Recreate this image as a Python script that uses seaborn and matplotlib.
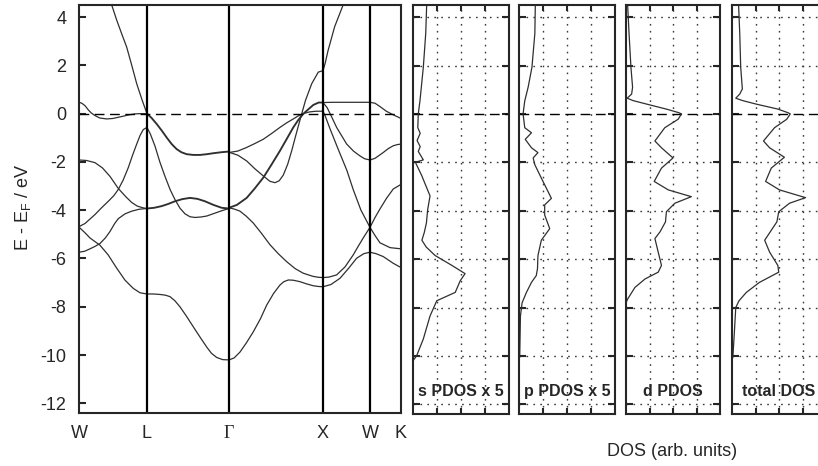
import matplotlib
matplotlib.use("Agg")
import matplotlib.pyplot as plt
import seaborn as sns

sns.set_style("ticks")
plt.rcParams['font.family'] = ['Liberation Sans', 'DejaVu Sans']
plt.rcParams['mathtext.default'] = 'regular'
plt.rcParams['axes.unicode_minus'] = False

# ---------------------------------------------------------------
# dati
# ---------------------------------------------------------------
K_POS = [0.0, 0.723, 1.596, 2.596, 3.096, 3.426]
K_LABELS = ['W', 'L', 'Γ', 'X', 'W', 'K']
E_RANGE = (-12.4, 4.5)
E_TICKS = [-12, -10, -8, -6, -4, -2, 0, 2, 4]

# rami di banda: (k, E) lungo il cammino W-L-G-X-W-K
BANDS = {
    # W -> L
    'WL_a': ([0, 0.03, 0.064, 0.10, 0.13, 0.17, 0.22, 0.295, 0.36, 0.454, 0.52, 0.596, 0.65, 0.723],
             [0.47, 0.43, 0.33, 0.15, 0.03, -0.08, -0.18, -0.22, -0.20, -0.12, -0.06, -0.01, 0.0, 0.0]),
    'WL_b': ([0.2, 0.3, 0.348, 0.401, 0.455, 0.507, 0.56, 0.614, 0.67, 0.723],
             [6.1, 5.05, 4.5, 3.875, 3.3, 2.76, 2.02, 1.24, 0.58, 0.0]),
    'WL_c': ([0, 0.08, 0.17, 0.25, 0.33, 0.418, 0.50, 0.561, 0.62, 0.68, 0.723],
             [-1.92, -1.94, -2.03, -2.25, -2.6, -3.1, -3.45, -3.68, -3.83, -3.9, -3.93]),
    'WL_d': ([0, 0.064, 0.17, 0.24, 0.312, 0.37, 0.418, 0.47, 0.524, 0.57, 0.614, 0.65, 0.684, 0.723],
             [-4.68, -4.55, -4.18, -3.9, -3.63, -3.4, -3.14, -2.75, -2.24, -1.72, -1.26, -0.9, -0.66, -0.57]),
    'WL_e': ([0, 0.06, 0.117, 0.17, 0.223, 0.31, 0.401, 0.49, 0.578, 0.649, 0.723],
             [-4.7, -4.92, -5.15, -5.3, -5.45, -5.85, -6.4, -6.9, -7.24, -7.42, -7.47]),
    'WL_f': ([0, 0.06, 0.117, 0.17, 0.223, 0.28, 0.33, 0.38, 0.418, 0.49, 0.561, 0.64, 0.723],
             [-5.74, -5.7, -5.6, -5.5, -5.38, -5.15, -4.88, -4.55, -4.35, -4.15, -4.04, -3.96, -3.93]),
    # L -> Gamma
    'LG_a': ([0.723, 0.77, 0.827, 0.88, 0.933, 0.986, 1.039, 1.09, 1.146, 1.216, 1.287, 1.36, 1.429, 1.51, 1.596],
             [0, -0.17, -0.43, -0.7, -0.99, -1.26, -1.47, -1.6, -1.68, -1.71, -1.71, -1.68, -1.64, -1.6, -1.57]),
    'LG_b': ([0.723, 0.76, 0.809, 0.86, 0.915, 0.97, 1.021, 1.075, 1.128, 1.18, 1.234, 1.3, 1.36, 1.447, 1.52, 1.596],
             [-0.57, -0.85, -1.35, -2.0, -2.6, -3.15, -3.56, -3.92, -4.15, -4.27, -4.3, -4.28, -4.24, -4.12, -4.02, -3.93]),
    'LG_c': ([0.723, 0.80, 0.88, 0.95, 1.021, 1.1, 1.181, 1.26, 1.34, 1.43, 1.518, 1.596],
             [-3.93, -3.9, -3.83, -3.74, -3.63, -3.54, -3.49, -3.53, -3.63, -3.78, -3.9, -3.93]),
    'LG_d': ([0.723, 0.79, 0.862, 0.92, 0.968, 1.02, 1.074, 1.145, 1.216, 1.29, 1.359, 1.41, 1.465, 1.53, 1.596],
             [-7.47, -7.47, -7.49, -7.52, -7.58, -7.75, -8.0, -8.4, -8.83, -9.27, -9.67, -9.93, -10.1, -10.19, -10.2]),
    # Gamma -> X
    'GX_a': ([1.596, 1.65, 1.713, 1.78, 1.854, 1.93, 1.997, 2.07, 2.138, 2.18, 2.227, 2.28, 2.351, 2.42, 2.493, 2.55, 2.596],
             [-10.2, -10.12, -9.875, -9.5, -9.04, -8.5, -7.93, -7.45, -7.1, -6.96, -6.89, -6.9, -6.96, -7.05, -7.13, -7.16, -7.17]),
    'GX_b': ([1.596, 1.65, 1.713, 1.78, 1.854, 1.94, 2.032, 2.12, 2.209, 2.3, 2.386, 2.49, 2.55, 2.596],
             [-3.9, -3.95, -4.04, -4.25, -4.53, -4.95, -5.43, -5.8, -6.13, -6.42, -6.61, -6.74, -6.78, -6.79]),
    'GX_c': ([1.596, 1.68, 1.784, 1.87, 1.961, 2.05, 2.138, 2.21, 2.28, 2.33, 2.386, 2.44, 2.493, 2.55, 2.596],
             [-3.9, -3.78, -3.49, -3.1, -2.65, -2.1, -1.54, -1.05, -0.57, -0.28, -0.01, 0.18, 0.36, 0.46, 0.46]),
    'GX_d': ([1.596, 1.69, 1.784, 1.87, 1.961, 2.05, 2.138, 2.21, 2.28, 2.33, 2.386, 2.45, 2.52, 2.596],
             [-1.61, -1.55, -1.4, -1.24, -1.06, -0.82, -0.57, -0.38, -0.22, -0.1, 0.0, 0.07, 0.1, 0.1]),
    'GX_e': ([1.596, 1.69, 1.784, 1.87, 1.961, 2.03, 2.085, 2.13, 2.173, 2.22, 2.263, 2.31, 2.37, 2.41, 2.476, 2.546, 2.596],
             [-1.6, -1.72, -1.96, -2.28, -2.58, -2.8, -2.86, -2.78, -2.55, -2.1, -1.54, -0.85, 0.0, 0.55, 1.24, 1.72, 1.78]),
    # X -> W
    'XW_a': ([2.596, 2.62, 2.649, 2.72, 2.81, 2.9],
             [1.78, 2.1, 2.6, 3.6, 4.5, 5.35]),
    'XW_b': ([2.596, 2.7, 2.8, 2.9, 3.0, 3.096],
             [0.46, 0.47, 0.47, 0.47, 0.47, 0.47]),
    'XW_c': ([2.596, 2.64, 2.69, 2.741, 2.8, 2.848, 2.92, 2.989, 3.04, 3.096],
             [0.46, 0.25, -0.15, -0.57, -0.95, -1.26, -1.55, -1.75, -1.87, -1.92]),
    'XW_d': ([2.596, 2.62, 2.67, 2.75, 2.85, 2.918, 3.0, 3.096],
             [0.1, -0.1, -0.62, -1.4, -2.35, -3.15, -4.0, -4.71]),
    'XW_e': ([2.596, 2.66, 2.741, 2.83, 2.918, 2.97, 3.024, 3.06, 3.096],
             [-6.79, -6.77, -6.68, -6.35, -5.85, -5.5, -5.15, -4.93, -4.71]),
    'XW_f': ([2.596, 2.68, 2.777, 2.87, 2.954, 3.03, 3.096],
             [-7.17, -7.08, -6.82, -6.4, -5.99, -5.8, -5.74]),
    # W -> K
    'WK_a': ([3.096, 3.15, 3.2, 3.27, 3.344, 3.426],
             [0.47, 0.43, 0.3, 0.1, -0.05, -0.2]),
    'WK_b': ([3.096, 3.15, 3.237, 3.29, 3.344, 3.39, 3.426],
             [-1.92, -1.85, -1.61, -1.45, -1.33, -1.28, -1.26]),
    'WK_c': ([3.096, 3.15, 3.202, 3.273, 3.344, 3.426],
             [-4.71, -4.3, -3.95, -3.5, -3.12, -2.93]),
    'WK_d': ([3.096, 3.15, 3.202, 3.309, 3.426],
             [-4.71, -5.05, -5.35, -5.55, -5.6]),
    'WK_e': ([3.096, 3.16, 3.237, 3.344, 3.426],
             [-5.74, -5.8, -5.92, -6.2, -6.375]),
}
# rami doppiamente degeneri (tratto piu' scuro)
DOUBLE = ['LG_a', 'LG_c', 'GX_c']

# densita' degli stati (valore, energia)
S_E = [4.5, 3.32, 1.93, 0.54, 0.0, -0.57, -0.8, -1.1, -1.35, -1.55, -1.9, -2.0, -2.54, -3.39, -3.96,
       -4.5, -4.9, -5.22, -5.5, -5.85, -6.26, -6.6, -6.89, -7.375, -7.72, -8.35, -9.3, -10.0, -10.2]
S_DOS = [0.57, 0.53, 0.43, 0.29, 0.22, 0.2, 0.30, 0.17, 0.30, 0.22, 0.43, 0.10, 0.36, 0.71, 0.61,
         0.56, 0.47, 0.37, 0.55, 0.92, 1.62, 2.17, 1.97, 1.76, 0.99, 0.71, 0.43, 0.15, 0.0]

P_E = [4.5, 3.32, 1.93, 1.1, 0.54, 0.0, -0.57, -0.78, -1.05, -1.4, -1.6, -1.82, -2.1, -2.65, -3.07,
       -3.49, -3.76, -4.18, -4.74, -5.22, -5.85, -6.4, -6.68, -6.96, -7.375, -7.8, -8.35, -10.0, -10.2]
P_DOS = [0.68, 0.66, 0.54, 0.38, 0.24, 0.17, 0.24, 0.52, 0.26, 0.52, 0.79, 0.59, 0.66, 0.93, 1.14,
         1.35, 1.07, 1.07, 1.28, 0.93, 0.79, 0.77, 0.72, 0.52, 0.31, 0.13, 0.06, 0.03, 0.0]

D_E = [4.5, 3.32, 1.93, 1.1, 0.82, 0.65, 0.55, 0.4, 0.19, 0.05, 0.0, -0.22, -0.57, -1.12, -1.4, -1.82,
       -2.24, -2.79, -3.14, -3.42, -3.69, -4.04, -4.46, -4.87, -5.15, -5.71, -6.26, -6.54, -6.82,
       -7.17, -7.65, -7.8]
D_DOS = [0.07, 0.13, 0.21, 0.28, 0.24, 0.05, 0.3, 0.9, 1.75, 2.25, 2.36, 2.22, 1.65, 1.23, 1.51, 2.0,
         1.51, 1.2, 1.8, 2.78, 2.08, 1.72, 1.68, 1.45, 1.23, 1.37, 1.51, 1.37, 0.81,
         0.38, 0.07, 0.0]

T_E = [4.5, 3.32, 1.93, 1.03, 0.82, 0.65, 0.55, 0.4, 0.2, 0.05, 0.0, -0.22, -0.57, -1.12, -1.4, -1.79,
       -2.24, -2.79, -3.14, -3.46, -3.69, -4.04, -4.46, -4.87, -5.22, -5.71, -6.26, -6.54, -6.96,
       -7.375, -7.72, -8.0, -9.04, -10.0, -10.2]
T_DOS = [0.28, 0.33, 0.37, 0.44, 0.33, 0.16, 0.45, 1.05, 1.95, 2.38, 2.48, 2.33, 1.81, 1.34, 1.6, 2.23,
         1.67, 1.43, 2.02, 3.13, 2.45, 1.99, 1.91, 1.63, 1.39, 1.6, 1.95, 1.99, 1.17,
         0.61, 0.3, 0.16, 0.1, 0.04, 0.0]

DOS_TITLES = ['s PDOS x 5', 'p PDOS x 5', 'd PDOS', 'total DOS']
DOS_DATA = [(S_DOS, S_E), (P_DOS, P_E), (D_DOS, D_E), (T_DOS, T_E)]

# ---------------------------------------------------------------
# figura
# ---------------------------------------------------------------
W_PX, H_PX = 818, 466
fig = plt.figure(figsize=(W_PX / 100, H_PX / 100), dpi=100)


def px_box(x0, x1, y_top, y_bot):
    return [x0 / W_PX, 1 - y_bot / H_PX, (x1 - x0) / W_PX, (y_bot - y_top) / H_PX]


LINE_COL = '#2f2f2f'

# --- struttura a bande ---
ax = fig.add_axes(px_box(79, 401, 5, 413))
for name, (k, e) in BANDS.items():
    sns.lineplot(x=k, y=e, ax=ax, sort=False, estimator=None, color=LINE_COL,
                 linewidth=1.35 if name in DOUBLE else 0.9)
for kp in K_POS[1:-1]:
    ax.axvline(kp, color='black', lw=1.6)
ax.axhline(0, color='black', lw=1.0, ls=(0, (7, 4)))
ax.set_xlim(K_POS[0], K_POS[-1])
ax.set_ylim(*E_RANGE)
ax.set_yticks(E_TICKS)
ax.set_xticks(K_POS)
ax.set_xticklabels(K_LABELS)
ax.get_xticklabels()[2].set_family(['Liberation Serif', 'DejaVu Serif'])
ax.tick_params(axis='y', direction='in', length=5, width=1.5, labelsize=13, pad=9)
ax.tick_params(axis='x', length=0, labelsize=13, pad=9)
for sp in ax.spines.values():
    sp.set_linewidth(1.5)
    sp.set_visible(True)

fig.text(23 / W_PX, 1 - 207 / H_PX, 'E - E$_F$ / eV', rotation=90,
         ha='center', va='center', fontsize=13)

# --- pannelli DOS ---
panel_x = [(413, 509), (519, 615), (626, 720), (732, 826)]
for (x0, x1), (dos, en), title in zip(panel_x, DOS_DATA, DOS_TITLES):
    axd = fig.add_axes(px_box(x0, x1, 5, 414))
    for yv in E_TICKS:
        if yv != 0:
            axd.axhline(yv, color='#3a3a3a', lw=1.0, ls=(0, (1.2, 3.8)), zorder=0)
    for xv in [1, 2, 3]:
        axd.axvline(xv, color='#3a3a3a', lw=1.0, ls=(0, (1.2, 3.8)), zorder=0)
    axd.axhline(0, color='black', lw=1.0, ls=(0, (7, 4)))
    sns.lineplot(x=dos, y=en, ax=axd, sort=False, estimator=None, color=LINE_COL, linewidth=0.9)
    axd.set_xlim(0, 4)
    axd.set_ylim(*E_RANGE)
    axd.set_yticks(E_TICKS)
    axd.set_xticks([1, 2, 3])
    axd.tick_params(axis='y', direction='in', left=True, right=True, length=5, width=1.5,
                    labelleft=False)
    axd.tick_params(axis='x', direction='in', top=True, bottom=True, length=4, width=1.5,
                    labelbottom=False)
    for sp in axd.spines.values():
        sp.set_linewidth(1.5)
        sp.set_visible(True)
    axd.set_xlabel('')
    axd.set_ylabel('')
    axd.text(2, -11.45, title, ha='center', va='center', fontsize=11.5, fontweight='bold')

fig.text(672 / W_PX, 1 - 452 / H_PX, 'DOS (arb. units)', ha='center', va='center', fontsize=13)

fig.savefig('out.png', dpi=100)
